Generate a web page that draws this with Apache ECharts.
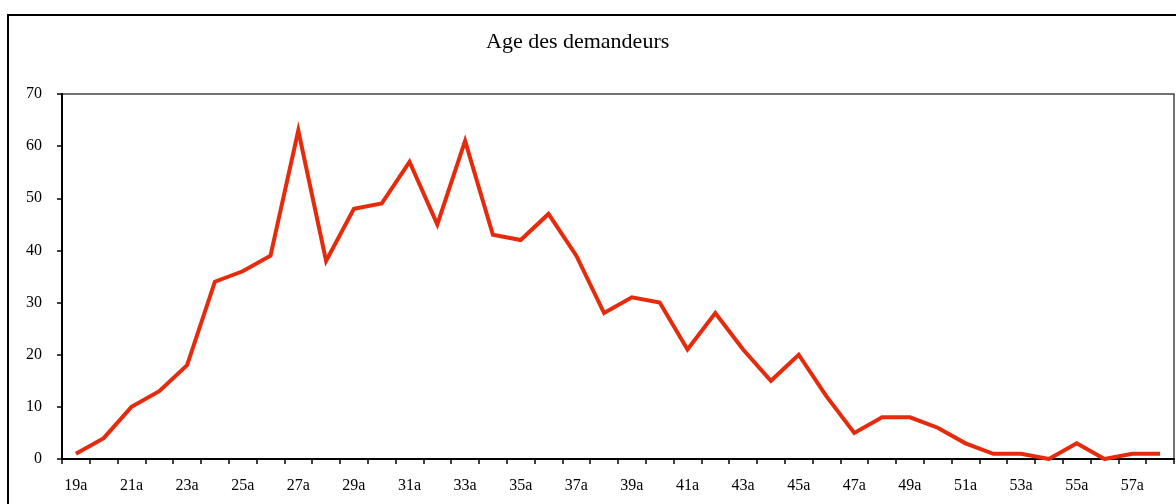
<!DOCTYPE html>
<html>
<head>
<meta charset="utf-8">
<title>Age des demandeurs</title>
<script src="https://cdn.jsdelivr.net/npm/echarts@6/dist/echarts.min.js"></script>
<style>
    html, body { margin: 0; padding: 0; background: #fff; }
    #chart { width: 1176px; height: 504px; }
</style>
</head>
<body>
<div id="chart"></div>
<script>
// catégories d'âge
const ages = [];
for (let a = 19; a <= 58; a++) ages.push(a + 'a');

// nombre de demandeurs par âge
const demandeurs = [
    1, 4, 10, 13, 18, 34, 36, 39, 63, 38,
    48, 49, 57, 45, 61, 43, 42, 47, 39, 28,
    31, 30, 21, 28, 21, 15, 20, 12, 5, 8,
    8, 6, 3, 1, 1, 0, 3, 0, 1, 1
];

const yTicks = { min: 0, max: 70, interval: 10 };

const font = '"Liberation Serif", "Times New Roman", serif';

const chart = echarts.init(document.getElementById('chart'));
chart.setOption({
    animation: false,
    backgroundColor: '#fff',
    title: {
        text: 'Age des demandeurs',
        left: 481,
        top: 26,
        textStyle: { fontFamily: font, fontSize: 22, fontWeight: 'normal', color: '#000' }
    },
    graphic: [{
        type: 'rect',
        shape: { x: 8, y: 15, width: 1300, height: 700 },
        style: { fill: 'none', stroke: '#000', lineWidth: 2 },
        z: 100
    }],
    grid: {
        left: 62, top: 94, right: 2, bottom: 45,
        show: true,
        borderColor: '#444',
        borderWidth: 1.5,
        backgroundColor: 'transparent'
    },
    xAxis: {
        type: 'category',
        data: ages,
        boundaryGap: true,
        axisLine: { lineStyle: { color: '#000', width: 2 } },
        axisTick: { show: true, interval: 0, length: 5, lineStyle: { color: '#000', width: 1.5 } },
        axisLabel: {
            interval: 1,
            margin: 19,
            fontFamily: font,
            fontSize: 16,
            color: '#000'
        },
        splitLine: { show: false }
    },
    yAxis: {
        type: 'value',
        min: yTicks.min,
        max: yTicks.max,
        interval: yTicks.interval,
        axisLine: { show: true, lineStyle: { color: '#000', width: 2 } },
        axisTick: { show: true, length: 5, lineStyle: { color: '#000', width: 1.5 } },
        axisLabel: { margin: 20, fontFamily: font, fontSize: 16, color: '#000' },
        splitLine: { show: false }
    },
    series: [{
        type: 'line',
        data: demandeurs,
        symbol: 'none',
        lineStyle: { color: '#e62a0c', width: 4, join: 'miter' },
        z: 5
    }]
});
</script>
</body>
</html>
